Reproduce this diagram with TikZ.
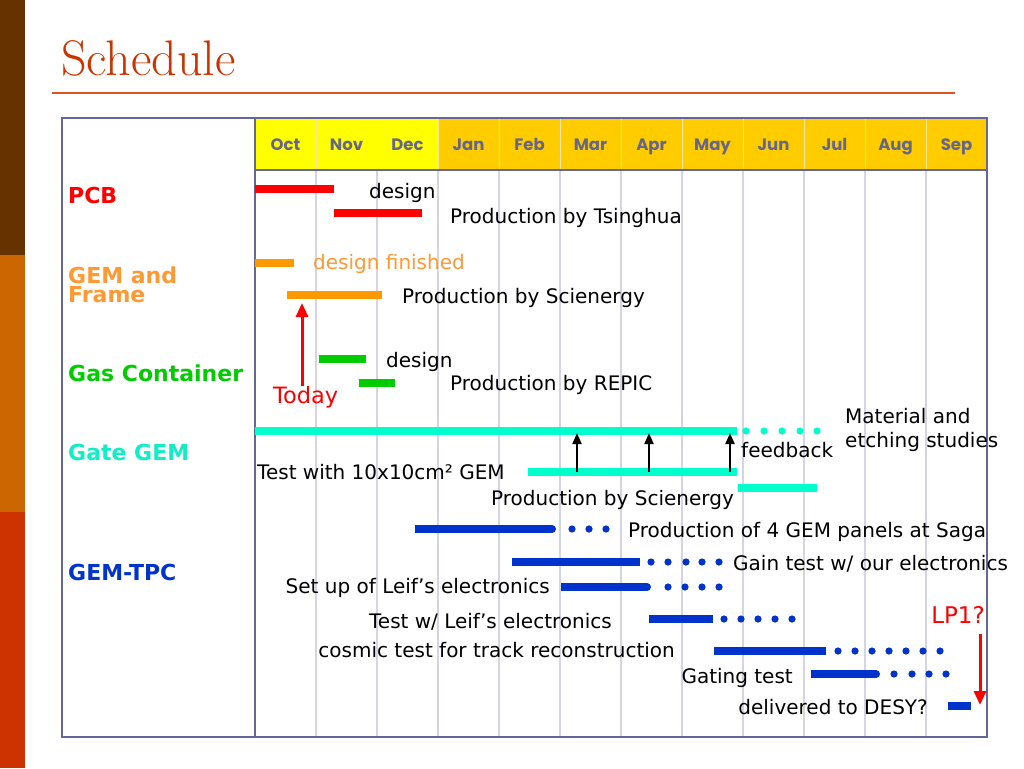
\documentclass[tikz,border=0pt]{standalone}
\usepackage{fontspec}
\newfontfamily\vfont{DejaVu Sans}
\newfontfamily\hfont{Poppins}
\usetikzlibrary{arrows.meta}
\definecolor{band1}{HTML}{663300}
\definecolor{band2}{HTML}{CC6600}
\definecolor{band3}{HTML}{CC3300}
\definecolor{titlec}{HTML}{CC3300}
\definecolor{rulec}{HTML}{DD5522}
\definecolor{framec}{HTML}{666699}
\definecolor{gridc}{HTML}{D4D4E4}
\definecolor{hdr1}{HTML}{FFFF00}
\definecolor{hdr2}{HTML}{FFCC00}
\definecolor{hdrsep}{HTML}{F2E6A0}
\definecolor{hdrtxt}{HTML}{666688}
\definecolor{pcbc}{HTML}{FF0000}
\definecolor{gemc}{HTML}{FF9900}
\definecolor{gemtxt}{HTML}{FF9933}
\definecolor{gasc}{HTML}{00CC00}
\definecolor{gatec}{HTML}{00FFCC}
\definecolor{gatetxt}{HTML}{11EEC4}
\definecolor{tpcc}{HTML}{0033CC}
\newcommand\gbar[4]{\fill[#1] (#2,#4-4) rectangle (#3,#4+4);}
\newcommand\gdots[3]{\foreach \xx in {#3} {\fill[#1] (\xx,#2) circle (3.6);}}
\begin{document}
\begin{tikzpicture}[x=1pt,y=-1pt,
  txt/.style={anchor=base west,inner sep=0,font=\vfont\fontsize{20}{24}\selectfont},
  lbl/.style={anchor=base west,inner sep=0,font=\vfont\bfseries\fontsize{22}{19}\selectfont,align=left},
  mon/.style={anchor=base,inner sep=0,text=hdrtxt,font=\hfont\bfseries\fontsize{16.5}{16}\selectfont},
  redtxt/.style={anchor=base west,inner sep=0,text=pcbc,font=\vfont\fontsize{22.5}{24}\selectfont}]
\useasboundingbox (0,0) rectangle (1024,768);
\fill[white] (0,0) rectangle (1024,768);
% side band
\fill[band1] (0,0) rectangle (25,255);
\fill[band2] (0,255) rectangle (25,512);
\fill[band3] (0,512) rectangle (25,768);
% title
\node[anchor=base west,inner sep=0,text=titlec,font=\rmfamily\fontsize{50}{54}\selectfont] (title) at (61,75) {Schedule};
\draw[rulec,line width=2.2] (52,93) -- (955,93);
% header
\fill[hdr1] (255,118) rectangle (438,170);
\fill[hdr2] (438,118) rectangle (987,170);
\foreach \i in {1,...,11} {
  \draw[hdrsep,line width=1] (255+61*\i,119) -- (255+61*\i,169);
  \draw[gridc,line width=1.5] (255+61*\i,171) -- (255+61*\i,736);
}
\foreach \m [count=\i from 0] in {Oct,Nov,Dec,Jan,Feb,Mar,Apr,May,Jun,Jul,Aug,Sep} {
  \node[mon] (m\i) at (285.5+61*\i,150) {\m};
}
\draw[framec,line width=2] (255,170) -- (987,170);
\draw[framec,line width=2] (255,118) rectangle (987,737);
\draw[framec,line width=1.2] (62,118) rectangle (255,737);
% labels
\node[lbl,text=pcbc] (lpcb) at (68,203) {PCB};
\node[lbl,text=gemtxt] (lgem) at (68,302) {GEM and\\Frame};
\node[lbl,text=gasc] (lgas) at (68,381) {Gas Container};
\node[lbl,text=gatetxt] (lgate) at (68,460) {Gate GEM};
\node[lbl,text=tpcc] (ltpc) at (68,580) {GEM-TPC};
% PCB
\gbar{pcbc}{255}{334}{189}
\gbar{pcbc}{334}{422}{213}
\node[txt] (t1) at (369,198) {design};
\node[txt] (t2) at (450,223) {Production by Tsinghua};
% GEM and Frame
\gbar{gemc}{255}{294}{263}
\gbar{gemc}{287}{382}{295}
\node[txt,text=gemtxt] (t3) at (313,269) {design finished};
\node[txt] (t4) at (402,303) {Production by Scienergy};
% Today
\node[redtxt] (today) at (273,403) {Today};
\coordinate (todayS) at (302,386);
\coordinate (todayE) at (302,303);
\draw[pcbc,line width=3,-{Triangle[width=12pt,length=14pt]}] (todayS) -- (todayE);
% Gas container
\gbar{gasc}{319}{366}{359}
\gbar{gasc}{359}{395}{383}
\node[txt] (t5) at (386,367) {design};
\node[txt] (t6) at (450,390) {Production by REPIC};
% Gate GEM
\gbar{gatec}{255}{737}{431}
\gdots{gatec}{431}{746,764,782,800,817}
\gbar{gatec}{528}{737}{472}
\gbar{gatec}{738}{817}{488}
\node[txt] (t7) at (845,423) {Material and};
\node[txt] (t8) at (845,447) {etching studies};
\node[txt] (t9) at (741,457) {feedback};
\node[txt] (t10) at (257,479) {Test with 10x10cm² GEM};
\node[txt] (t11) at (491,505) {Production by Scienergy};
\foreach \ax [count=\k] in {577,649,730} {
  \coordinate (fbS\k) at (\ax,472);
  \coordinate (fbE\k) at (\ax,433);
  \draw[black,line width=2,-{Triangle[width=9pt,length=11pt]}] (fbS\k) -- (fbE\k);
}
% GEM-TPC
\gbar{tpcc}{415}{552}{529} \fill[tpcc] (552,529) circle (4);
\gdots{tpcc}{529}{572,589,606}
\node[txt] (t12) at (628,537) {Production of 4 GEM panels at Saga};
\gbar{tpcc}{512}{640}{562}
\gdots{tpcc}{562}{651,668,686,702,719}
\node[txt] (t13) at (733,570) {Gain test w/ our electronics};
\gbar{tpcc}{561}{647}{587} \fill[tpcc] (647,587) circle (4);
\gdots{tpcc}{587}{668,685,702,719}
\node[txt,anchor=base east] (t14) at (550,593) {Set up of Leif’s electronics};
\gbar{tpcc}{649}{713}{619}
\gdots{tpcc}{619}{724,741,758,775,792}
\node[txt,anchor=base east] (t15) at (612,628) {Test w/ Leif’s electronics};
\gbar{tpcc}{714}{826}{651}
\gdots{tpcc}{651}{838,855,872,889,906,923,940}
\node[txt,anchor=base east] (t16) at (675,657) {cosmic test for track reconstruction};
\gbar{tpcc}{811}{876}{674} \fill[tpcc] (876,674) circle (4);
\gdots{tpcc}{674}{894,912,929,946}
\node[txt,anchor=base east] (t17) at (793,683) {Gating test};
\gbar{tpcc}{948}{971}{706}
\node[txt,anchor=base east] (t18) at (928,714) {delivered to DESY?};
% LP1
\node[redtxt,anchor=base east,font=\vfont\fontsize{23}{24}\selectfont] (lp1) at (985,623) {LP1?};
\coordinate (lpS) at (980,634);
\coordinate (lpE) at (980,705);
\draw[pcbc,line width=3,-{Triangle[width=12pt,length=14pt]}] (lpS) -- (lpE);
\end{tikzpicture}
\end{document}
